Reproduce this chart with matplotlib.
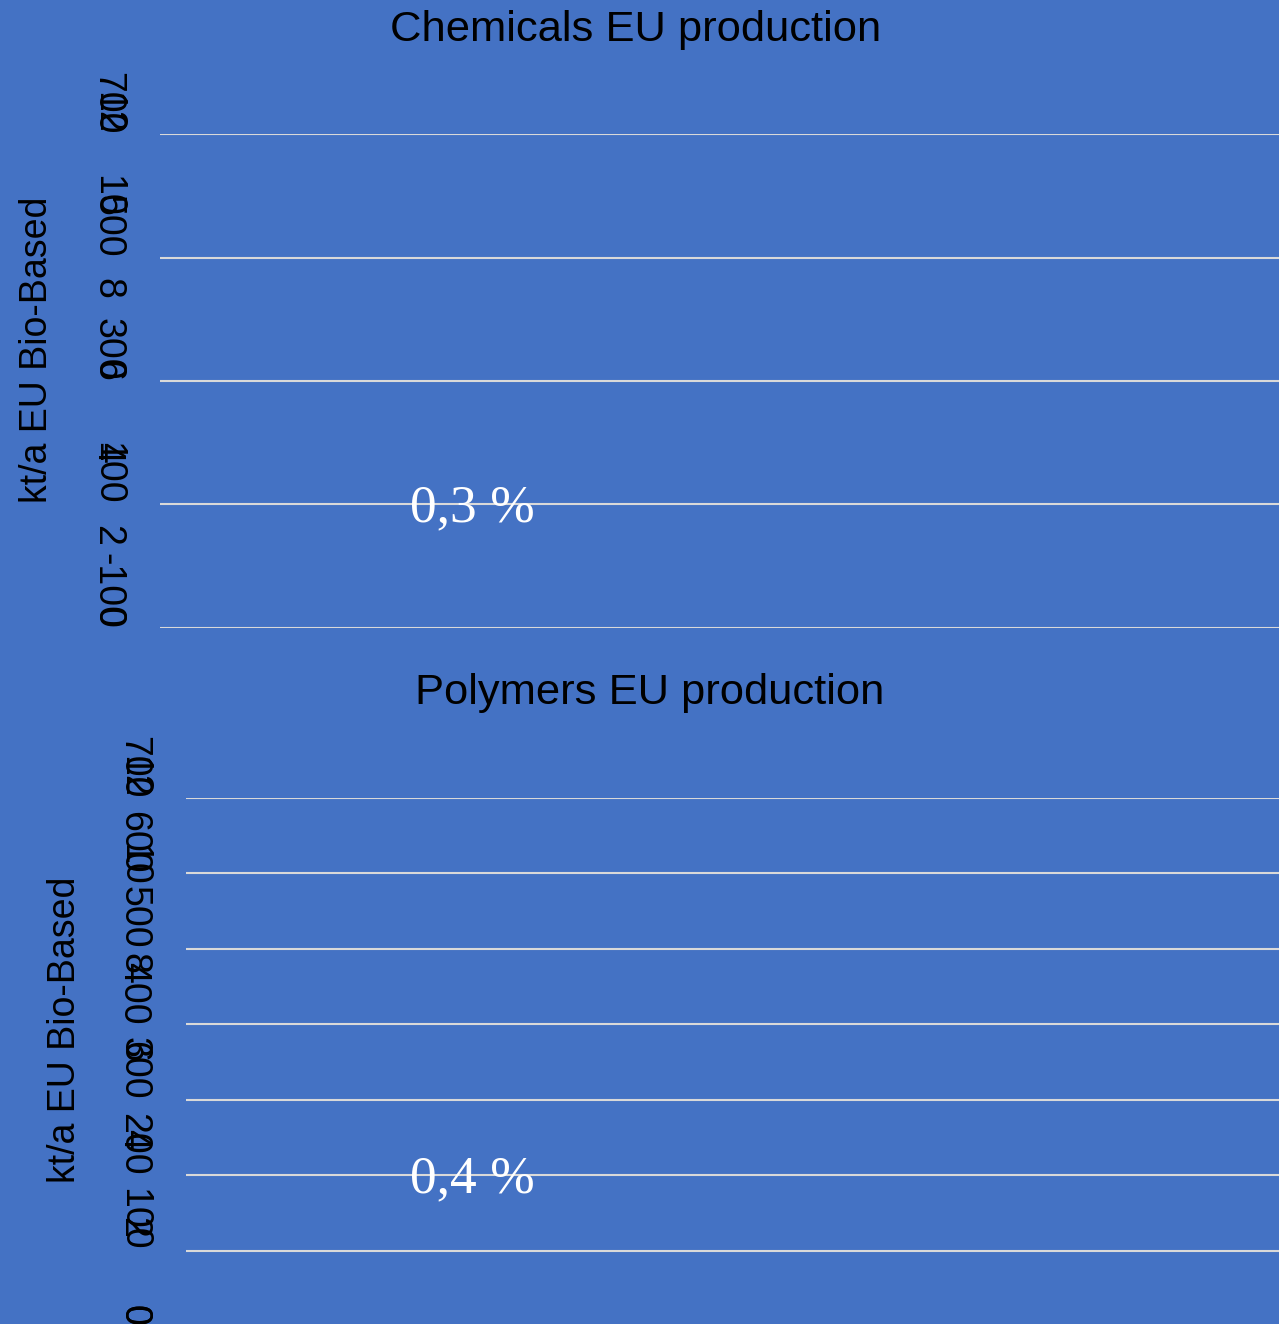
import matplotlib
matplotlib.use('Agg')
from matplotlib import pyplot as plt
from matplotlib.ticker import FixedLocator, FuncFormatter
from matplotlib import transforms

plt.rcParams['font.family'] = ['Liberation Sans', 'DejaVu Sans']
plt.rcParams['axes.unicode_minus'] = False

# chart values
chem_title = 'Chemicals EU production'
poly_title = 'Polymers EU production'
y_label = 'kt/a EU Bio-Based'

chem_ticks = [-100, 100, 300, 500, 700]
chem_share_ticks = [0, 2, 4, 6, 8, 10, 12]
chem_share_text = '0,3 %'
chem_share_at = 100

poly_ticks = [0, 100, 200, 300, 400, 500, 600, 700]
poly_share_ticks = [0, 2, 4, 6, 8, 10, 12]
poly_share_text = '0,4 %'
poly_share_at = 200

BG = '#4472C4'
GRID = '#D9D9D9'
W, H = 1279, 1324

fig = plt.figure(figsize=(W / 100, H / 100), dpi=100, facecolor=BG)


def px_axes(left, top, right, bottom):
    return fig.add_axes([left / W, 1 - bottom / H, (right - left) / W, (bottom - top) / H])


def style_labels(axis, pad):
    axis.yaxis.set_tick_params(length=0, pad=pad, labelsize=27, labelcolor='black')
    for lbl in axis.get_yticklabels():
        lbl.set_rotation(-90)
        lbl.set_va('bottom')
        lbl.set_ha('right')


def make_panel(top, bottom, left, ticks, share_ticks, share_text, share_at):
    ax = px_axes(left, top, W, bottom)
    ax.set_facecolor(BG)
    ax.set_ylim(ticks[0], ticks[-1])
    ax.set_xlim(0, 1)
    ax.yaxis.set_major_locator(FixedLocator(ticks))
    ax.yaxis.set_major_formatter(FuncFormatter(lambda v, p: f'{v:.0f}'))
    ax.set_xticks([])
    ax.grid(axis='y', color=GRID, linewidth=1.5)
    ax.set_axisbelow(True)
    for s in ax.spines.values():
        s.set_visible(False)

    ax2 = ax.twinx()
    ax2.set_ylim(share_ticks[0], share_ticks[-1])
    ax2.yaxis.set_major_locator(FixedLocator(share_ticks))
    ax2.yaxis.set_major_formatter(FuncFormatter(lambda v, p: f'{v:.0f}'))
    ax2.yaxis.tick_left()
    for s in ax2.spines.values():
        s.set_visible(False)
    ax2.patch.set_visible(False)

    style_labels(ax, 25)
    style_labels(ax2, 25)

    # percent label: x in figure fraction, y in data
    trans = transforms.blended_transform_factory(fig.transFigure, ax.transData)
    trans = transforms.offset_copy(trans, fig=fig, y=-4, units='dots')
    ax.text(472 / W, share_at, share_text, transform=trans,
            family=['Liberation Serif', 'DejaVu Serif'],
            fontsize=38.5, color='white', ha='center', va='center')
    return ax


make_panel(134, 628, 160, chem_ticks, chem_share_ticks, chem_share_text, chem_share_at)
make_panel(798, 1326, 186, poly_ticks, poly_share_ticks, poly_share_text, poly_share_at)

fig.text(636 / W, 1 - 30 / H, chem_title, fontsize=31.3, ha='center', va='center')
fig.text(650 / W, 1 - 693 / H, poly_title, fontsize=31.3, ha='center', va='center')
fig.text(37 / W, 1 - 350 / H, y_label, fontsize=27, rotation=90, ha='center', va='center')
fig.text(65 / W, 1 - 1030 / H, y_label, fontsize=27, rotation=90, ha='center', va='center')

fig.savefig('out.png', dpi=100, facecolor=BG)
